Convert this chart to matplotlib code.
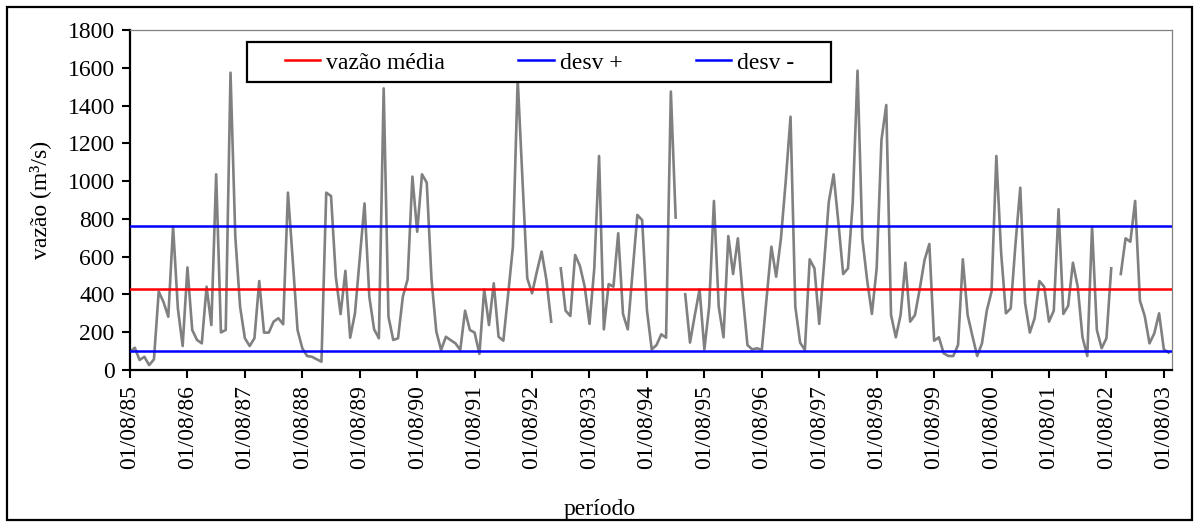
import numpy as np
import matplotlib.pyplot as plt
from matplotlib.patches import Rectangle

plt.rcParams['font.family'] = ['Liberation Serif', 'DejaVu Serif']

# vazão mensal (m3/s) a partir de 01/08/85; nan = falha
vazao = [
    95, 118, 53, 70, 26, 56, 415, 360, 282, 759,
    326, 127, 543, 212, 159, 141, 441, 238, 1036, 199,
    212, 1574, 706, 335, 168, 127, 168, 471, 198, 198,
    256, 274, 242, 939, 582, 212, 115, 74, 70, 57,
    44, 939, 921, 494, 296, 525, 171, 300, 590, 882,
    388, 215, 168, 1491, 282, 159, 168, 388, 480, 1024,
    732, 1036, 992, 477, 203, 106, 176, 158, 141, 106,
    314, 212, 198, 85, 427, 238, 459, 176, 155, 400,
    653, 1540, 1006, 485, 406, 520, 627, 477, 256, np.nan,
    538, 314, 286, 609, 551, 441, 244, 538, 1133, 215,
    455, 441, 724, 297, 215, 520, 821, 794, 318, 109,
    132, 189, 171, 1474, 807, np.nan, 401, 145, 290, 427,
    109, 335, 895, 335, 173, 709, 508, 697, 400, 132,
    109, 115, 106, 380, 653, 494, 697, 1000, 1341, 335,
    145, 106, 586, 538, 244, 560, 891, 1036, 780, 508,
    538, 886, 1585, 697, 477, 297, 538, 1218, 1403, 291,
    173, 291, 568, 256, 291, 430, 582, 667, 155, 173,
    88, 74, 74, 132, 586, 291, 180, 74, 141, 314,
    415, 1133, 621, 300, 326, 667, 965, 356, 198, 274,
    471, 441, 256, 314, 851, 297, 339, 568, 441, 173,
    74, 759, 212, 115, 168, 538, np.nan, 508, 697, 679,
    895, 367, 286, 141, 194, 300, 109, 92,
]
vazao_media = 428
desv_mais = 764
desv_menos = 101

anos = ['85', '86', '87', '88', '89', '90', '91', '92', '93', '94',
        '95', '96', '97', '98', '99', '00', '01', '02', '03']
rotulos = ['01/08/' + a for a in anos]

meses = np.arange(len(vazao))

W, H = 1199, 526
fig = plt.figure(figsize=(W / 100, H / 100), dpi=100)
ax = fig.add_axes([130 / W, 1 - 370 / H, 1042 / W, 340 / H])

ax.plot(meses, vazao, color='#808080', lw=1.9, zorder=2)
ax.axhline(vazao_media, color='#ff0000', lw=1.8, label='vazão média', zorder=3)
ax.axhline(desv_mais, color='#0000ff', lw=1.8, label='desv +', zorder=3)
ax.axhline(desv_menos, color='#0000ff', lw=1.8, label='desv -', zorder=3)

ax.set_xlim(0, 217.7)
ax.set_ylim(0, 1800)
ax.set_yticks(range(0, 1801, 200))
ax.set_xticks(meses[::12][:len(rotulos)])
ax.set_xticklabels(rotulos, rotation=90)

ax.tick_params(labelsize=17, length=6, width=1.5, direction='out', pad=5)
for s in ['left', 'bottom']:
    ax.spines[s].set_linewidth(1.6)
    ax.spines[s].set_color('black')
for s in ['top', 'right']:
    ax.spines[s].set_linewidth(0.9)
    ax.spines[s].set_color('#808080')

ax.set_ylabel('vazão (m³/s)', fontsize=17, labelpad=12)
ax.set_xlabel('período', fontsize=17)
ax.xaxis.set_label_coords(0.451, -0.38)

# caixa da legenda
caixa = Rectangle((0.1123, 0.847), 0.56, 0.118, transform=ax.transAxes,
                  facecolor='white', edgecolor='black', lw=1.6, zorder=4,
                  clip_on=False)
ax.add_patch(caixa)
ax.legend(loc='center left', bbox_to_anchor=(0.1488, 0.903), ncol=3,
          frameon=False, fontsize=17, borderpad=0, borderaxespad=0,
          handlelength=1.5, handletextpad=0.25, columnspacing=3.1)

# moldura externa
fig.patches.append(Rectangle((7 / W, 6 / H), 1185 / W, 513 / H,
                             transform=fig.transFigure, fill=False,
                             edgecolor='black', lw=1.6))

fig.savefig('out.png', dpi=100)
